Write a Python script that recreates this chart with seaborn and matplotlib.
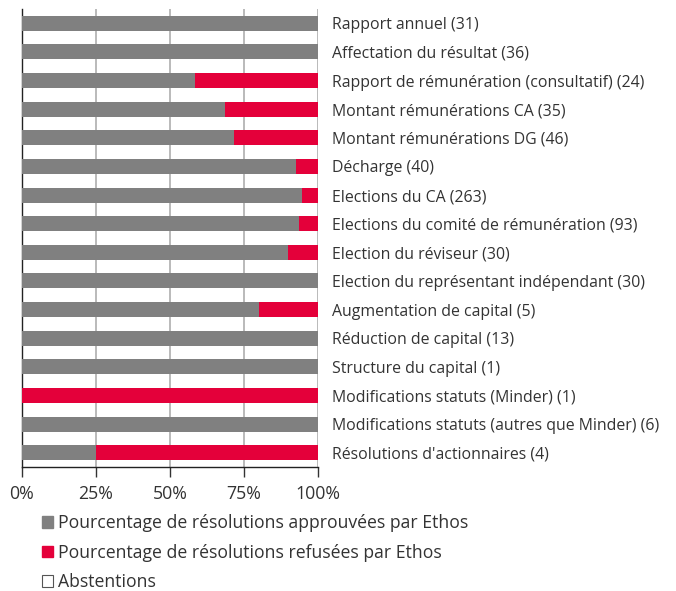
import matplotlib.pyplot as plt
import seaborn as sns
import pandas as pd
from matplotlib.patches import Patch

# Data
categories = [
    "Rapport annuel (31)",
    "Affectation du résultat (36)",
    "Rapport de rémunération (consultatif) (24)",
    "Montant rémunérations CA (35)",
    "Montant rémunérations DG (46)",
    "Décharge (40)",
    "Elections du CA (263)",
    "Elections du comité de rémunération (93)",
    "Election du réviseur (30)",
    "Election du représentant indépendant (30)",
    "Augmentation de capital (5)",
    "Réduction de capital (13)",
    "Structure du capital (1)",
    "Modifications statuts (Minder) (1)",
    "Modifications statuts (autres que Minder) (6)",
    "Résolutions d'actionnaires (4)",
]
approved = [100, 100, 58.3, 68.6, 71.7, 92.5, 94.7, 93.5, 90.0, 100, 80, 100, 100, 0, 100, 25]
refused = [0, 0, 41.7, 31.4, 28.3, 7.5, 5.3, 6.5, 10.0, 0, 20, 0, 0, 100, 0, 75]
abstentions = [0] * 16
xticks = [0, 25, 50, 75, 100]

legend_labels = [
    "Pourcentage de résolutions approuvées par Ethos",
    "Pourcentage de résolutions refusées par Ethos",
    "Abstentions",
]

GRAY = "#808080"
RED = "#e4003a"

df = pd.DataFrame({"cat": categories, "approved": approved,
                   "refused": refused, "abst": abstentions})
df["cum_refused"] = df["approved"] + df["refused"]
df["cum_abst"] = df["cum_refused"] + df["abst"]

sns.set_style("white")
plt.rcParams["font.family"] = ["Open Sans", "DejaVu Sans"]

fig = plt.figure(figsize=(6.76, 5.91), dpi=100)
ax = fig.add_axes([22 / 676, 1 - 467 / 591, 296 / 676, 458 / 591])

# stacked bars: draw cumulative totals from back to front
sns.barplot(data=df, x="cum_abst", y="cat", orient="h", color="white",
            saturation=1, width=0.52, ax=ax, zorder=2)
sns.barplot(data=df, x="cum_refused", y="cat", orient="h", color=RED,
            saturation=1, width=0.52, ax=ax, zorder=3)
sns.barplot(data=df, x="approved", y="cat", orient="h", color=GRAY,
            saturation=1, width=0.52, ax=ax, zorder=4)
for p in ax.patches:
    p.set_edgecolor("none")
    p.set_linewidth(0)

ax.set_xlim(0, 100)
ax.set_ylim(len(categories) - 0.5, -0.5)
ax.set_xticks(xticks)
ax.set_xticklabels([f"{t}%" for t in xticks], fontsize=12.8, color="#333333")
ax.xaxis.grid(True, color="#b4b4b4", linewidth=1.3, zorder=0)
ax.set_axisbelow(True)

ax.yaxis.tick_right()
ax.tick_params(axis="y", length=0, pad=10, labelsize=11.4, labelcolor="#333333")
ax.tick_params(axis="x", direction="out", length=7, width=1, color="#333333",
               bottom=True, pad=6)
ax.set_xlabel("")
ax.set_ylabel("")

for side in ["top", "right"]:
    ax.spines[side].set_visible(False)
ax.spines["left"].set_color("#222222")
ax.spines["bottom"].set_color("#222222")
ax.spines["left"].set_linewidth(1)
ax.spines["bottom"].set_linewidth(1)

handles = [
    Patch(facecolor=GRAY, edgecolor=GRAY),
    Patch(facecolor=RED, edgecolor=RED),
    Patch(facecolor="white", edgecolor="#555555", linewidth=0.8),
]
fig.legend(handles, legend_labels, loc="upper left",
           bbox_to_anchor=(35 / 676, 1 - 507 / 591), frameon=False,
           fontsize=12.7, handlelength=0.62, handleheight=0.62,
           handletextpad=0.3, labelspacing=0.66, borderaxespad=0,
           labelcolor="#333333")

fig.savefig("out.png", dpi=100)
